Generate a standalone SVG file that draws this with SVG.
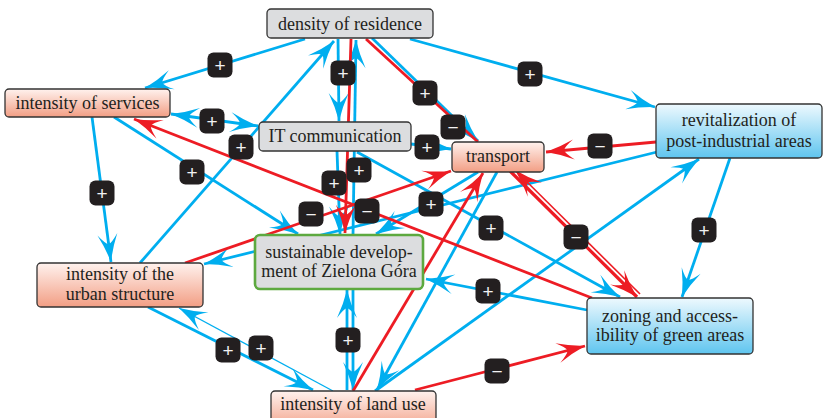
<svg xmlns="http://www.w3.org/2000/svg" width="823" height="418" viewBox="0 0 823 418">
<defs>
<linearGradient id="gSal" x1="0" y1="0" x2="0" y2="1"><stop offset="0" stop-color="#fff2ee"/><stop offset="1" stop-color="#f29e84"/></linearGradient>
<linearGradient id="gBlu" x1="0" y1="0" x2="0" y2="1"><stop offset="0" stop-color="#eef9fe"/><stop offset="1" stop-color="#5fc5ef"/></linearGradient>
<marker id="ab" viewBox="-30 -12 32 24" refX="0" refY="0" markerWidth="32" markerHeight="24" markerUnits="userSpaceOnUse" orient="auto-start-reverse"><path d="M0,0 Q-14,-3.5 -28,-10 Q-19,-3.5 -18,0 Q-19,3.5 -28,10 Q-14,3.5 0,0Z" fill="#00aeef"/></marker>
<marker id="ar" viewBox="-30 -12 32 24" refX="0" refY="0" markerWidth="32" markerHeight="24" markerUnits="userSpaceOnUse" orient="auto-start-reverse"><path d="M0,0 Q-14,-3.5 -28,-10 Q-19,-3.5 -18,0 Q-19,3.5 -28,10 Q-14,3.5 0,0Z" fill="#ed1c24"/></marker>
</defs>
<style>
.b{stroke:#00aeef;stroke-width:2.8;fill:none;marker-end:url(#ab)}
.r{stroke:#ed1c24;stroke-width:2.8;fill:none;marker-end:url(#ar)}
.rn{stroke:#ed1c24;stroke-width:2.8;fill:none}
.box{stroke:#333;stroke-width:1.3}
.gr{fill:#dcdddf}
.sal{fill:url(#gSal)}
.blu{fill:url(#gBlu)}
.t{font-family:"Liberation Serif","Times New Roman",serif;font-size:18px;fill:#231f20;text-anchor:middle}
.bd{fill:#231f20}
.bt{font-family:"Liberation Sans",Arial,sans-serif;font-size:19px;fill:#f2f2f2;text-anchor:middle}
</style>
<rect width="823" height="418" fill="#fff"/>
<g id="connectors">
<line class="b" x1="305" y1="39" x2="145" y2="88"/>
<line class="b" x1="410" y1="39" x2="655" y2="107"/>
<line class="b" x1="338" y1="39" x2="339" y2="121"/>
<line class="b" x1="353" y1="235" x2="356" y2="40"/>
<line class="b" x1="353" y1="289" x2="353" y2="390"/>
<line class="b" x1="347" y1="390" x2="347" y2="290"/>
<line class="b" x1="140" y1="263" x2="334" y2="41"/>
<line class="b" x1="171" y1="114" x2="258" y2="126" style="marker-start:url(#ab)"/>
<line class="b" x1="92" y1="117" x2="111" y2="262"/>
<line class="b" x1="114" y1="117" x2="298" y2="234"/>
<line class="b" x1="411" y1="144" x2="451" y2="149"/>
<line class="b" x1="337" y1="151" x2="340" y2="234"/>
<line class="b" x1="657" y1="152" x2="204" y2="264"/>
<line class="b" x1="478" y1="172" x2="376" y2="234"/>
<line class="b" x1="497" y1="172" x2="377" y2="390"/>
<line class="b" x1="357" y1="152" x2="620" y2="297"/>
<line class="b" x1="587" y1="310" x2="426" y2="279"/>
<line class="b" x1="375" y1="391" x2="699" y2="159"/>
<line class="b" x1="730" y1="158" x2="682" y2="297"/>
<line class="b" x1="148" y1="307" x2="313" y2="390"/>
<line class="b" x1="333" y1="391" x2="179" y2="308" style="stroke-width:1.3"/>
<line class="b" x1="372" y1="38" x2="478" y2="141"/>
<line class="r" x1="656" y1="142" x2="546" y2="152"/>
<line class="r" x1="185" y1="263" x2="451" y2="171"/>
<line class="r" x1="353" y1="391" x2="483" y2="173"/>
<line class="r" x1="592" y1="298" x2="134" y2="119"/>
<line class="r" x1="351" y1="39" x2="345" y2="233"/>
<line class="rn" x1="366" y1="39" x2="478" y2="142"/>
<line class="r" x1="510" y1="171" x2="637" y2="297" style="stroke-width:3.2"/>
<line class="r" x1="640" y1="294" x2="515" y2="170" style="stroke-width:1.6"/>
<line class="r" x1="415" y1="390" x2="585" y2="346"/>
</g>
<g id="n-density"><rect class="box gr" x="267" y="9" width="166" height="29" rx="4"/><text class="t" x="350" y="29.5">density of residence</text></g>
<g id="n-services"><rect class="box sal" x="5" y="89" width="165" height="28" rx="4"/><text class="t" x="87.5" y="109">intensity of services</text></g>
<g id="n-it"><rect class="box gr" x="259" y="122" width="152" height="29" rx="4"/><text class="t" x="335" y="142">IT communication</text></g>
<g id="n-transport"><rect class="box sal" x="452" y="142" width="92" height="30" rx="4"/><text class="t" x="498" y="162">transport</text></g>
<g id="n-revit"><rect class="box blu" x="656" y="104" width="166" height="54" rx="4"/><text class="t" x="739" y="126">revitalization of</text><text class="t" x="739" y="147">post-industrial areas</text></g>
<g id="n-sustainable"><rect x="255" y="235" width="168" height="54" rx="5" fill="#dcdddf" stroke="#5da93f" stroke-width="2.6"/><text class="t" x="339" y="258">sustainable develop-</text><text class="t" x="339" y="277">ment of Zielona Góra</text></g>
<g id="n-urban"><rect class="box sal" x="37" y="263" width="166" height="44" rx="4"/><text class="t" x="120" y="280">intensity of the</text><text class="t" x="120" y="300">urban structure</text></g>
<g id="n-zoning"><rect class="box blu" x="587" y="298" width="166" height="56" rx="4"/><text class="t" x="670" y="322">zoning and access-</text><text class="t" x="670" y="341">ibility of green areas</text></g>
<g id="n-landuse"><rect class="box sal" x="271" y="391" width="165" height="40" rx="4"/><text class="t" x="353" y="410">intensity of land use</text></g>
<g id="labels">
<g transform="translate(220,65)"><rect class="bd" x="-12.5" y="-12.5" width="25" height="25" rx="6"/><text class="bt" y="6.5">+</text></g>
<g transform="translate(530,74)"><rect class="bd" x="-12.5" y="-12.5" width="25" height="25" rx="6"/><text class="bt" y="6.5">+</text></g>
<g transform="translate(343,73)"><rect class="bd" x="-12.5" y="-12.5" width="25" height="25" rx="6"/><text class="bt" y="6.5">+</text></g>
<g transform="translate(425,93)"><rect class="bd" x="-12.5" y="-12.5" width="25" height="25" rx="6"/><text class="bt" y="6.5">+</text></g>
<g transform="translate(453,127)"><rect class="bd" x="-12.5" y="-12.5" width="25" height="25" rx="6"/><text class="bt" y="6.5">−</text></g>
<g transform="translate(212,121)"><rect class="bd" x="-12.5" y="-12.5" width="25" height="25" rx="6"/><text class="bt" y="6.5">+</text></g>
<g transform="translate(241,147)"><rect class="bd" x="-12.5" y="-12.5" width="25" height="25" rx="6"/><text class="bt" y="6.5">+</text></g>
<g transform="translate(427,147)"><rect class="bd" x="-12.5" y="-12.5" width="25" height="25" rx="6"/><text class="bt" y="6.5">+</text></g>
<g transform="translate(600,146)"><rect class="bd" x="-12.5" y="-12.5" width="25" height="25" rx="6"/><text class="bt" y="6.5">−</text></g>
<g transform="translate(102,193)"><rect class="bd" x="-12.5" y="-12.5" width="25" height="25" rx="6"/><text class="bt" y="6.5">+</text></g>
<g transform="translate(192,172)"><rect class="bd" x="-12.5" y="-12.5" width="25" height="25" rx="6"/><text class="bt" y="6.5">+</text></g>
<g transform="translate(334,183)"><rect class="bd" x="-12.5" y="-12.5" width="25" height="25" rx="6"/><text class="bt" y="6.5">+</text></g>
<g transform="translate(359,170)"><rect class="bd" x="-12.5" y="-12.5" width="25" height="25" rx="6"/><text class="bt" y="6.5">+</text></g>
<g transform="translate(311,214)"><rect class="bd" x="-12.5" y="-12.5" width="25" height="25" rx="6"/><text class="bt" y="6.5">−</text></g>
<g transform="translate(367,211)"><rect class="bd" x="-12.5" y="-12.5" width="25" height="25" rx="6"/><text class="bt" y="6.5">−</text></g>
<g transform="translate(431,204)"><rect class="bd" x="-12.5" y="-12.5" width="25" height="25" rx="6"/><text class="bt" y="6.5">+</text></g>
<g transform="translate(491,228)"><rect class="bd" x="-12.5" y="-12.5" width="25" height="25" rx="6"/><text class="bt" y="6.5">+</text></g>
<g transform="translate(576,237)"><rect class="bd" x="-12.5" y="-12.5" width="25" height="25" rx="6"/><text class="bt" y="6.5">−</text></g>
<g transform="translate(704,230)"><rect class="bd" x="-12.5" y="-12.5" width="25" height="25" rx="6"/><text class="bt" y="6.5">+</text></g>
<g transform="translate(488,291)"><rect class="bd" x="-12.5" y="-12.5" width="25" height="25" rx="6"/><text class="bt" y="6.5">+</text></g>
<g transform="translate(348,340)"><rect class="bd" x="-12.5" y="-12.5" width="25" height="25" rx="6"/><text class="bt" y="6.5">+</text></g>
<g transform="translate(228,350)"><rect class="bd" x="-12.5" y="-12.5" width="25" height="25" rx="6"/><text class="bt" y="6.5">+</text></g>
<g transform="translate(261,348)"><rect class="bd" x="-12.5" y="-12.5" width="25" height="25" rx="6"/><text class="bt" y="6.5">+</text></g>
<g transform="translate(497,371)"><rect class="bd" x="-12.5" y="-12.5" width="25" height="25" rx="6"/><text class="bt" y="6.5">−</text></g>
</g>
</svg>
